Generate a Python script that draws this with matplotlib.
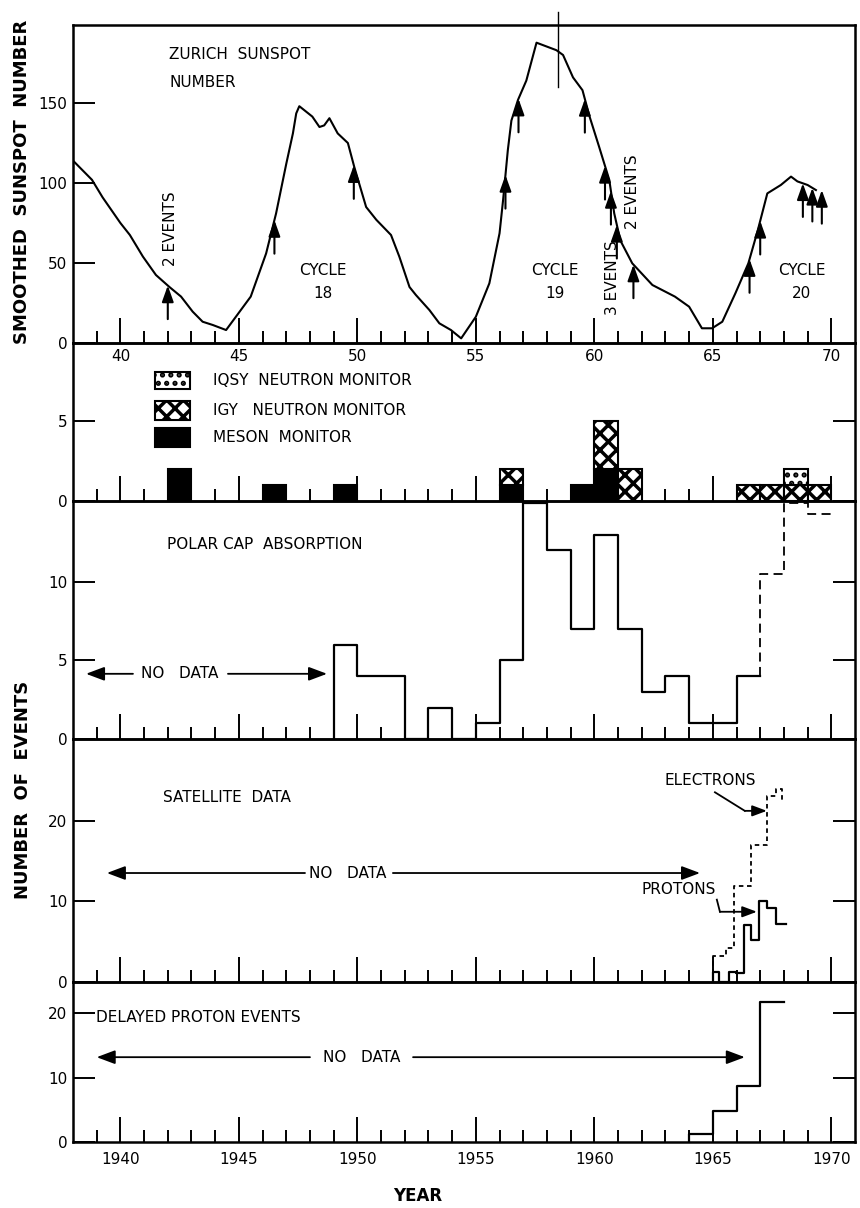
import numpy as np
import matplotlib
matplotlib.use("Agg")
import matplotlib.pyplot as plt

plt.rcParams['font.family'] = ['DejaVu Sans']
plt.rcParams['hatch.linewidth'] = 2.5

# ---------------- data ----------------
ss_year = [1938.0, 1938.8, 1939.25, 1940.0, 1940.4, 1940.95, 1941.5, 1942.07, 1942.56, 1943.05,
           1943.47, 1943.9, 1944.46, 1945.5, 1946.15, 1946.57, 1947.0, 1947.28, 1947.42, 1947.55,
           1948.1, 1948.4, 1948.6, 1948.82, 1949.17, 1949.6, 1949.87, 1950.37, 1950.8, 1951.42,
           1951.77, 1952.2, 1952.47, 1953.04, 1953.46, 1953.95, 1954.38, 1955.0, 1955.57, 1956.0,
           1956.15, 1956.35, 1956.5, 1956.78, 1957.13, 1957.56, 1958.4, 1958.68, 1959.1, 1959.5,
           1959.8, 1960.2, 1960.63, 1960.84, 1961.1, 1961.6, 1962.45, 1963.4, 1964.0, 1964.54,
           1964.97, 1965.4, 1965.95, 1966.5, 1966.9, 1967.3, 1967.87, 1968.3, 1968.57, 1969.0,
           1969.35]
ss_val = [114, 102, 91, 75, 67.5, 54, 42.5, 35, 29, 19.6,
          13.3, 11.25, 8.1, 29, 56, 81, 112, 131, 143.5, 148,
          141.5, 135, 136, 140.5, 131, 125, 110, 85, 77, 67.5,
          54, 35, 30, 20.6, 12.3, 8.1, 2.9, 16.4, 37.3, 68.6,
          89.4, 120.6, 139, 152, 164, 187.7, 183, 180, 166, 158,
          141.5, 122.7, 102, 81, 64, 49.8, 36.25, 29, 22.7, 9.2,
          9.2, 13.3, 31, 49.8, 70.6, 93.5, 98.75, 104, 101, 98.75,
          95.6]
event_years = [1942.0, 1946.5, 1949.85, 1956.25, 1956.8, 1959.6, 1960.45, 1960.7, 1960.95,
               1961.65, 1966.55, 1967.0, 1968.8, 1969.2, 1969.6]

bar_years = [1942, 1946, 1949, 1956, 1959, 1960, 1961, 1966, 1967, 1968, 1969]
meson = [2, 1, 1, 1, 1, 2, 0, 0, 0, 0, 0]
igy = [0, 0, 0, 1, 0, 3, 2, 1, 1, 1, 1]
iqsy = [0, 0, 0, 0, 0, 0, 0, 0, 0, 1, 0]

pca_edges = list(range(1949, 1968))
pca_vals = [6, 4, 4, 0, 2, 0, 1, 5, 15, 12, 7, 13, 7, 3, 4, 1, 1, 4]
pca_est_edges = [1967, 1968, 1969, 1970]
pca_est_vals = [10.5, 15, 14.3]

elec_edges = [1965.0, 1965.55, 1965.9, 1966.6, 1967.3, 1967.66, 1967.94]
elec_vals = [3.2, 4.2, 11.9, 17.0, 23.0, 23.9]
elec_end = 22.6
prot_edges = [1965.0, 1965.27, 1965.69, 1965.97, 1966.32, 1966.6, 1966.95, 1967.3, 1967.66, 1968.1]
prot_vals = [1.3, 0, 1.3, 1.1, 7.1, 5.2, 10.0, 9.2, 7.2]

dpe_edges = [1964, 1965, 1966, 1967, 1968]
dpe_vals = [1.3, 4.8, 8.7, 21.8]

top_labels = ['40', '45', '50', '55', '60', '65', '70']
bottom_labels = ['1940', '1945', '1950', '1955', '1960', '1965', '1970']


def step_path(edges, vals, start=0.0, end=None):
    xs = [edges[0]]
    ys = [start]
    for i, v in enumerate(vals):
        xs += [edges[i], edges[i + 1]]
        ys += [v, v]
    if end is not None:
        xs.append(edges[-1])
        ys.append(end)
    return xs, ys


# ---------------- figure ----------------
W, H = 860, 1208
fig = plt.figure(figsize=(W / 100, H / 100), dpi=100)
L, R = 73, 855


def make_ax(top, bot):
    return fig.add_axes([L / W, 1 - bot / H, (R - L) / W, (bot - top) / H], facecolor='none')


ax1 = make_ax(25, 343)
ax2 = make_ax(343, 501)
ax3 = make_ax(501, 739)
ax4 = make_ax(739, 982)
ax5 = make_ax(982, 1142)
axes = [ax1, ax2, ax3, ax4, ax5]

FS = 11
LW = 1.6
for ax in axes:
    ax.set_xlim(1938, 1971)
    ax.set_xticks(range(1940, 1971, 5))
    ax.set_xticks(range(1939, 1971), minor=True)
    ax.tick_params(axis='x', which='major', direction='in', length=18, width=1.4,
                   bottom=True, top=False, labelbottom=False, labelsize=FS)
    ax.tick_params(axis='x', which='minor', direction='in', length=9, width=1.4,
                   bottom=True, top=False)
    ax.tick_params(axis='y', which='major', direction='in', length=16, width=1.4,
                   left=True, right=True, labelsize=FS, pad=4)
    for s in ax.spines.values():
        s.set_linewidth(1.8)

# ---- panel 1: sunspot number ----
ax1.set_ylim(0, 198.75)
ax1.set_yticks([0, 50, 100, 150])
ax1.tick_params(axis='y', right=False)
ax1.set_xticklabels(top_labels)
ax1.tick_params(axis='x', which='major', labelbottom=True, pad=4)
ax1.plot(ss_year, ss_val, color='k', lw=1.5)
tips = np.interp(event_years, ss_year, ss_val)
for x, t in zip(event_years, tips):
    ax1.annotate('', xy=(x, t), xytext=(x, t - 21),
                 arrowprops=dict(arrowstyle='-|>,head_length=0.7,head_width=0.25',
                                 color='k', lw=1.5, shrinkA=0, shrinkB=0, mutation_scale=14))
ax1.plot([1958.45, 1958.45], [207, 160], color='k', lw=1.0, clip_on=False)
ax1.text(1942.07, 180.6, 'ZURICH  SUNSPOT', fontsize=FS, va='center', ha='left')
ax1.text(1942.07, 162.5, 'NUMBER', fontsize=FS, va='center', ha='left')
for cx, num in [(1948.55, '18'), (1958.34, '19'), (1968.75, '20')]:
    ax1.text(cx, 45.3, 'CYCLE', fontsize=FS, ha='center', va='center')
    ax1.text(cx, 30.8, num, fontsize=FS, ha='center', va='center')
ax1.text(1942.1, 71.25, '2 EVENTS', rotation=90, fontsize=FS, ha='center', va='center')
ax1.text(1960.78, 41, '3 EVENTS', rotation=90, fontsize=FS, ha='center', va='center')
ax1.text(1961.6, 94.6, '2 EVENTS', rotation=90, fontsize=FS, ha='center', va='center')

# ---- panel 2: ground level events ----
ax2.set_ylim(0, 9.9)
ax2.set_yticks([0, 5])
by = np.array(bar_years)
m = np.array(meson, dtype=float)
g = np.array(igy, dtype=float)
q = np.array(iqsy, dtype=float)
sel = m > 0
ax2.bar(by[sel], m[sel], width=1, align='edge', color='k', edgecolor='k', lw=1.5)
sel = g > 0
ax2.bar(by[sel], g[sel], bottom=m[sel], width=1, align='edge', facecolor='white',
        edgecolor='k', hatch='xx', lw=1.5)
sel = q > 0
ax2.bar(by[sel], q[sel], bottom=(m + g)[sel], width=1, align='edge', facecolor='white',
        edgecolor='k', hatch='..', lw=1.5)
from matplotlib.patches import Rectangle
leg = [('IQSY  NEUTRON MONITOR', dict(facecolor='white', hatch='..'), 7.0, 8.06),
       ('IGY   NEUTRON MONITOR', dict(facecolor='white', hatch='xx'), 5.06, 6.25),
       ('MESON  MONITOR', dict(facecolor='k'), 3.38, 4.56)]
for label, kw, y0, y1 in leg:
    ax2.add_patch(Rectangle((1941.46, y0), 1.48, y1 - y0, edgecolor='k', lw=1.5, **kw))
    ax2.text(1943.9, (y0 + y1) / 2, label, fontsize=FS, va='center', ha='left')

# ---- panel 3: polar cap absorption ----
ax3.set_ylim(0, 15.15)
ax3.set_yticks([0, 5, 10])
xs, ys = step_path(pca_edges, pca_vals)
ax3.plot(xs, ys, color='k', lw=LW)
xs, ys = step_path(pca_est_edges, pca_est_vals, start=pca_vals[-1])
ax3.plot(xs, ys, color='k', lw=1.3, dashes=(5, 3))
ax3.text(1941.97, 12.36, 'POLAR CAP  ABSORPTION', fontsize=FS, va='center', ha='left')
yv = 4.15
ax3.text(1942.5, yv, 'NO   DATA', fontsize=FS, va='center', ha='center')
arrow_kw = dict(arrowstyle='-|>,head_length=0.8,head_width=0.3', color='k', lw=1.3,
                shrinkA=0, shrinkB=0, mutation_scale=14)
ax3.annotate('', xy=(1938.55, yv), xytext=(1940.53, yv), arrowprops=arrow_kw)
ax3.annotate('', xy=(1948.72, yv), xytext=(1944.54, yv), arrowprops=arrow_kw)

# ---- panel 4: satellite data ----
ax4.set_ylim(0, 30.1)
ax4.set_yticks([0, 10, 20])
xs, ys = step_path(elec_edges, elec_vals, end=elec_end)
ax4.plot(xs, ys, color='k', lw=1.3, dashes=(2.5, 2))
xs, ys = step_path(prot_edges, prot_vals)
ax4.plot(xs, ys, color='k', lw=LW)
ax4.text(1941.8, 22.9, 'SATELLITE  DATA', fontsize=FS, va='center', ha='left')
yv = 13.5
ax4.text(1949.6, yv, 'NO   DATA', fontsize=FS, va='center', ha='center')
ax4.annotate('', xy=(1939.43, yv), xytext=(1947.79, yv), arrowprops=arrow_kw)
ax4.annotate('', xy=(1964.46, yv), xytext=(1951.5, yv), arrowprops=arrow_kw)
ax4.text(1962.98, 25.0, 'ELECTRONS', fontsize=FS, va='center', ha='left')
ax4.plot([1965.09, 1966.35], [23.5, 21.2], color='k', lw=1.3)
ax4.annotate('', xy=(1967.28, 21.2), xytext=(1966.35, 21.2),
             arrowprops=dict(arrow_kw, mutation_scale=11))
ax4.text(1961.97, 11.5, 'PROTONS', fontsize=FS, va='center', ha='left')
ax4.plot([1965.17, 1965.3], [10.2, 8.7], color='k', lw=1.3)
ax4.annotate('', xy=(1966.86, 8.7), xytext=(1965.3, 8.7),
             arrowprops=dict(arrow_kw, mutation_scale=11))

# ---- panel 5: delayed proton events ----
ax5.set_ylim(0, 24.9)
ax5.set_yticks([0, 10, 20])
xs, ys = step_path(dpe_edges, dpe_vals)
ax5.plot(xs, ys, color='k', lw=LW)
ax5.set_xticklabels(bottom_labels)
ax5.tick_params(axis='x', which='major', labelbottom=True, pad=7)
ax5.text(1938.97, 19.3, 'DELAYED PROTON EVENTS', fontsize=FS, va='center', ha='left')
yv = 13.2
ax5.text(1950.2, yv, 'NO   DATA', fontsize=FS, va='center', ha='center')
ax5.annotate('', xy=(1939.0, yv), xytext=(1948.0, yv), arrowprops=arrow_kw)
ax5.annotate('', xy=(1966.35, yv), xytext=(1952.35, yv), arrowprops=arrow_kw)

# ---- axis titles ----
fig.text(22 / W, 1 - 182 / H, 'SMOOTHED  SUNSPOT  NUMBER', rotation=90, fontsize=13,
         fontweight='bold', ha='center', va='center')
fig.text(23 / W, 1 - 790 / H, 'NUMBER  OF  EVENTS', rotation=90, fontsize=13,
         fontweight='bold', ha='center', va='center')
fig.text(418 / W, 1 - 1196 / H, 'YEAR', fontsize=12, fontweight='bold', ha='center', va='center')

fig.savefig('out.png', dpi=100)
